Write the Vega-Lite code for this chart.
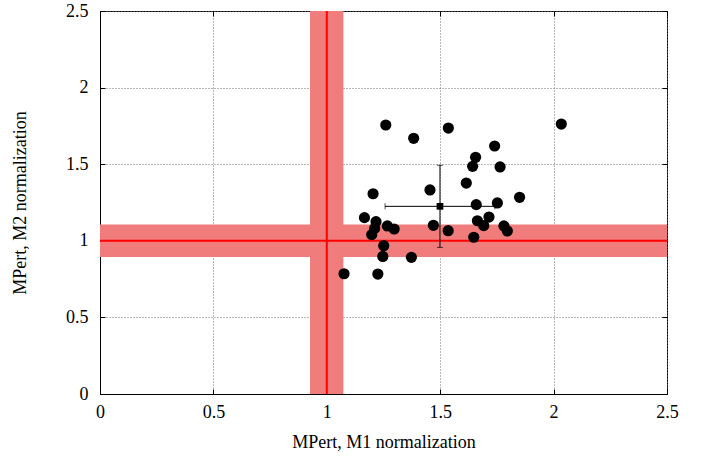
{
  "$schema": "https://vega.github.io/schema/vega-lite/v6.json",
  "width": 567,
  "height": 383,
  "autosize": "none",
  "padding": {"left": 100, "top": 11, "right": 42, "bottom": 63},
  "background": "white",
  "config": {
    "font": "Liberation Serif",
    "view": {"stroke": "black", "strokeWidth": 1}
  },
  "resolve": {"axis": {"x": "independent", "y": "independent"}},
  "datasets": {
    "points": [
      {"m1": 1.26, "m2": 1.756},
      {"m1": 1.383, "m2": 1.669},
      {"m1": 1.536, "m2": 1.736},
      {"m1": 1.74, "m2": 1.619},
      {"m1": 1.656, "m2": 1.545},
      {"m1": 1.643, "m2": 1.486},
      {"m1": 1.764, "m2": 1.482},
      {"m1": 1.615, "m2": 1.377},
      {"m1": 1.455, "m2": 1.332},
      {"m1": 1.204, "m2": 1.307},
      {"m1": 1.85, "m2": 1.284},
      {"m1": 1.659, "m2": 1.236},
      {"m1": 1.752, "m2": 1.247},
      {"m1": 1.166, "m2": 1.151},
      {"m1": 1.217, "m2": 1.125},
      {"m1": 1.715, "m2": 1.155},
      {"m1": 1.664, "m2": 1.131},
      {"m1": 1.692, "m2": 1.099},
      {"m1": 1.267, "m2": 1.097},
      {"m1": 1.297, "m2": 1.077},
      {"m1": 1.211, "m2": 1.081},
      {"m1": 1.198, "m2": 1.04},
      {"m1": 1.47, "m2": 1.101},
      {"m1": 1.535, "m2": 1.066},
      {"m1": 1.781, "m2": 1.097},
      {"m1": 1.796, "m2": 1.064},
      {"m1": 1.648, "m2": 1.023},
      {"m1": 1.251, "m2": 0.968},
      {"m1": 1.247, "m2": 0.898},
      {"m1": 1.373, "m2": 0.892},
      {"m1": 1.076, "m2": 0.785},
      {"m1": 1.225, "m2": 0.783},
      {"m1": 2.034, "m2": 1.762}
    ],
    "mean": [
      {"m1": 1.499, "m2": 1.225, "m1lo": 1.257, "m1hi": 1.741, "m2lo": 0.957, "m2hi": 1.493}
    ],
    "vband": [{"lo": 0.926, "hi": 1.073}],
    "hband": [{"lo": 0.894, "hi": 1.107}]
  },
  "layer": [
    {
      "data": {"name": "vband"},
      "mark": {"type": "rect", "color": "#f07c7c", "opacity": 1},
      "encoding": {
        "x": {
          "field": "lo", "type": "quantitative",
          "scale": {"domain": [0, 2.5], "nice": false, "zero": false},
          "title": "MPert, M1 normalization",
          "axis": {
            "values": [0, 0.5, 1, 1.5, 2, 2.5], "format": "~g", "labelFlush": false,
            "grid": true, "gridDash": [1, 2], "gridColor": "#707070", "gridWidth": 1,
            "domainColor": "black", "ticks": true, "tickSize": -5, "tickColor": "black",
            "labelFont": "Liberation Serif", "labelFontSize": 18, "labelColor": "black", "labelPadding": 14,
            "titleFont": "Liberation Serif", "titleFontSize": 18, "titleFontWeight": "normal", "titleColor": "black", "titlePadding": 12
          }
        },
        "x2": {"field": "hi"}
      }
    },
    {
      "data": {"name": "hband"},
      "mark": {"type": "rect", "color": "#f07c7c", "opacity": 1},
      "encoding": {
        "y": {
          "field": "lo", "type": "quantitative",
          "scale": {"domain": [0, 2.5], "nice": false, "zero": false},
          "title": "MPert, M2 normalization",
          "axis": {
            "values": [0, 0.5, 1, 1.5, 2, 2.5], "format": "~g", "labelFlush": false,
            "grid": true, "gridDash": [1, 2], "gridColor": "#707070", "gridWidth": 1,
            "domainColor": "black", "ticks": true, "tickSize": -5, "tickColor": "black",
            "labelFont": "Liberation Serif", "labelFontSize": 18, "labelColor": "black", "labelPadding": 17,
            "titleFont": "Liberation Serif", "titleFontSize": 18, "titleFontWeight": "normal", "titleColor": "black", "titlePadding": 36
          }
        },
        "y2": {"field": "hi"}
      }
    },
    {
      "data": {"name": "vband"},
      "mark": {"type": "rule", "color": "#ff0000", "strokeWidth": 2},
      "encoding": {
        "x": {
          "datum": 1, "type": "quantitative",
          "axis": {
            "orient": "top", "values": [0, 0.5, 1, 1.5, 2, 2.5], "labels": false, "title": null,
            "grid": false, "domain": false, "ticks": true, "tickSize": -5, "tickColor": "black"
          }
        }
      }
    },
    {
      "data": {"name": "hband"},
      "mark": {"type": "rule", "color": "#ff0000", "strokeWidth": 2},
      "encoding": {
        "y": {
          "datum": 1, "type": "quantitative",
          "axis": {
            "orient": "right", "values": [0, 0.5, 1, 1.5, 2, 2.5], "labels": false, "title": null,
            "grid": false, "domain": false, "ticks": true, "tickSize": -5, "tickColor": "black"
          }
        }
      }
    },
    {
      "data": {"name": "mean"},
      "mark": {"type": "rule", "color": "black", "strokeWidth": 1},
      "encoding": {
        "x": {"field": "m1lo", "type": "quantitative", "axis": null},
        "x2": {"field": "m1hi"},
        "y": {"field": "m2", "type": "quantitative", "axis": null}
      }
    },
    {
      "data": {"name": "mean"},
      "mark": {"type": "rule", "color": "black", "strokeWidth": 1},
      "encoding": {
        "x": {"field": "m1", "type": "quantitative", "axis": null},
        "y": {"field": "m2lo", "type": "quantitative", "axis": null},
        "y2": {"field": "m2hi"}
      }
    },
    {
      "data": {"name": "mean"},
      "mark": {"type": "tick", "orient": "vertical", "color": "black", "size": 6, "thickness": 1},
      "encoding": {
        "x": {"field": "m1lo", "type": "quantitative", "axis": null},
        "y": {"field": "m2", "type": "quantitative", "axis": null}
      }
    },
    {
      "data": {"name": "mean"},
      "mark": {"type": "tick", "orient": "vertical", "color": "black", "size": 6, "thickness": 1},
      "encoding": {
        "x": {"field": "m1hi", "type": "quantitative", "axis": null},
        "y": {"field": "m2", "type": "quantitative", "axis": null}
      }
    },
    {
      "data": {"name": "mean"},
      "mark": {"type": "tick", "orient": "horizontal", "color": "black", "size": 6, "thickness": 1},
      "encoding": {
        "x": {"field": "m1", "type": "quantitative", "axis": null},
        "y": {"field": "m2lo", "type": "quantitative", "axis": null}
      }
    },
    {
      "data": {"name": "mean"},
      "mark": {"type": "tick", "orient": "horizontal", "color": "black", "size": 6, "thickness": 1},
      "encoding": {
        "x": {"field": "m1", "type": "quantitative", "axis": null},
        "y": {"field": "m2hi", "type": "quantitative", "axis": null}
      }
    },
    {
      "data": {"name": "points"},
      "mark": {"type": "circle", "color": "black", "opacity": 1, "size": 125},
      "encoding": {
        "x": {"field": "m1", "type": "quantitative", "axis": null},
        "y": {"field": "m2", "type": "quantitative", "axis": null}
      }
    },
    {
      "data": {"name": "mean"},
      "mark": {"type": "square", "color": "black", "opacity": 1, "size": 45},
      "encoding": {
        "x": {"field": "m1", "type": "quantitative", "axis": null},
        "y": {"field": "m2", "type": "quantitative", "axis": null}
      }
    }
  ]
}
